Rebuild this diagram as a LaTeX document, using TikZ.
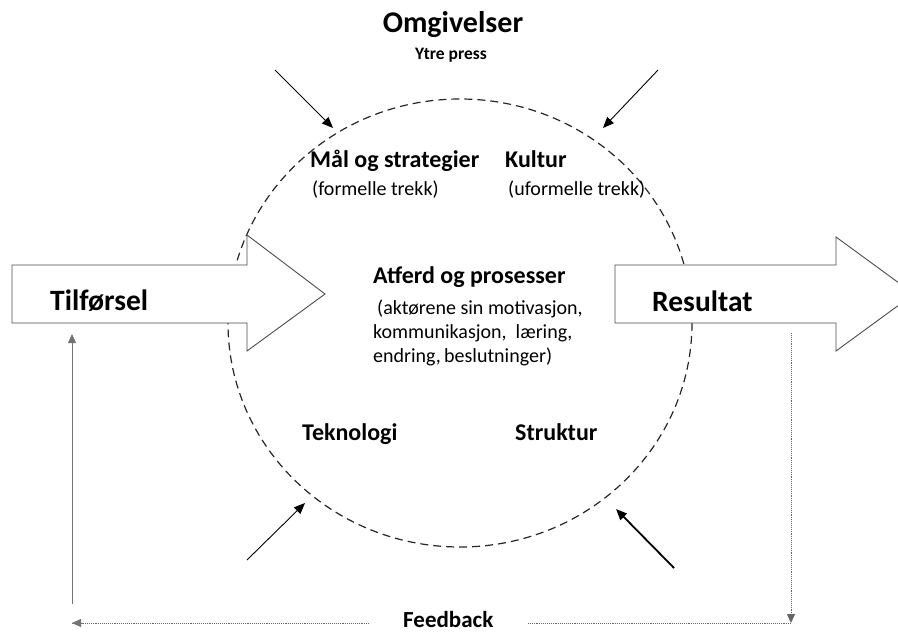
\documentclass[tikz,border=0pt]{standalone}
\usepackage{fontspec}
\setmainfont{Carlito}
\usetikzlibrary{arrows.meta}
\begin{document}
\begin{tikzpicture}[x=1pt,y=-1pt,
  bigarrow/.style={draw=black!70, line width=0.9pt, fill=white, line join=miter},
  pressarrow/.style={line width=0.9pt, -{Triangle[length=11pt,width=9pt]}},
  fbline/.style={draw=black!55, line width=0.8pt},
  fbdots/.style={draw=black!60, line width=0.9pt, densely dotted},
  fbtip/.style={-{Triangle[length=9pt,width=8pt]}},
  huge/.style={font=\bfseries\fontsize{29.5}{32}\selectfont, anchor=base west, inner sep=0},
  title/.style={font=\bfseries\fontsize{24}{28}\selectfont, anchor=base west, inner sep=0},
  note/.style={font=\fontsize{20}{24}\selectfont, anchor=base west, inner sep=0}]
\useasboundingbox (0,0) rectangle (898,632);
\clip (0,0) rectangle (898,632);
% organisation circle
\draw[dashed, dash pattern=on 8pt off 5pt, line width=1.2pt, black!85] (460,323) ellipse [x radius=232, y radius=224];
% input / output arrows
\draw[bigarrow] (12,265) -- (247,265) -- (247,235) -- (325,294) -- (247,351) -- (247,323) -- (12,323) -- cycle;
\draw[bigarrow] (615,265) -- (836,265) -- (836,237) -- (914,294) -- (836,351) -- (836,323) -- (615,323) -- cycle;
\node[huge] (tilf) at (50,310) {Tilførsel};
\node[huge] (res) at (652,311) {Resultat};
% environment
\node[font=\bfseries\fontsize{30}{34}\selectfont, anchor=base, inner sep=0] (omg) at (453,32) {Omgivelser};
\node[font=\bfseries\fontsize{17.5}{20}\selectfont, anchor=base, inner sep=0] (ytre) at (451,59) {Ytre press};
% pressure arrows
\coordinate (p1s) at (275,70);  \coordinate (p1e) at (333,128);
\coordinate (p2s) at (658,70);  \coordinate (p2e) at (603,128);
\coordinate (p3s) at (247,560); \coordinate (p3e) at (305,503);
\coordinate (p4s) at (674,568); \coordinate (p4e) at (616,509);
\draw[pressarrow] (p1s) -- (p1e);
\draw[pressarrow] (p2s) -- (p2e);
\draw[pressarrow] (p3s) -- (p3e);
\draw[pressarrow, line width=1.8pt] (p4s) -- (p4e);
% inner texts
\node[title] (mal) at (310,167) {Mål og strategier};
\node[note] (form) at (312,195) {(formelle trekk)};
\node[title] (kul) at (505,167) {Kultur};
\node[note] (uform) at (508,195) {(uformelle trekk)};
\node[title] (atf) at (373,283) {Atferd og prosesser};
\node[note] (akt1) at (377,314) {(aktørene sin motivasjon,};
\node[note] (akt2) at (373,338) {kommunikasjon,\ \ læring,};
\node[note] (akt3) at (373,362) {endring,\,beslutninger)};
\node[title] (tek) at (302,440) {Teknologi};
\node[title] (str) at (515,440) {Struktur};
% feedback loop
\node[font=\bfseries\fontsize{23}{26}\selectfont, anchor=base west, inner sep=0] (fb) at (403,627) {Feedback};
\coordinate (fbr) at (791,623);
\coordinate (fbl) at (72,623);
\coordinate (rtop) at (791,333);
\coordinate (lbot) at (72,604);
\draw[fbdots, fbtip] (rtop) -- (fbr);
\draw[fbdots] (fbr) -- ([xshift=34pt]fb.east |- fbr);
\draw[fbdots] ([xshift=-34pt]fb.west |- fbl) -- (fbl);
\draw[fbline, fbtip] ([xshift=12pt]fbl) -- (fbl);
\draw[fbline, fbtip] (lbot) -- (72,334) coordinate (ltop);
\end{tikzpicture}
\end{document}
